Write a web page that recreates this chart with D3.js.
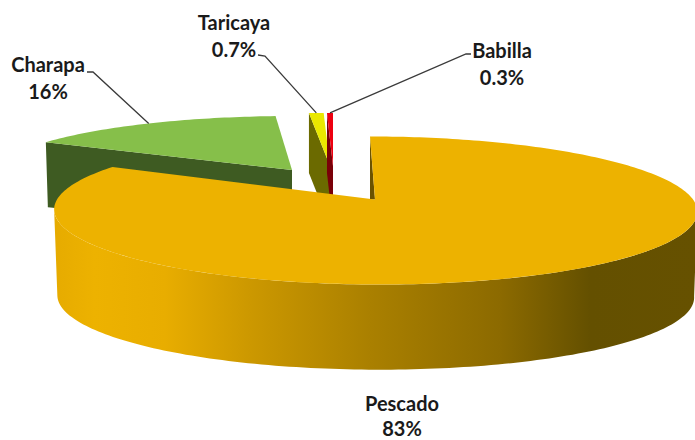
<!DOCTYPE html>
<html><head><meta charset="utf-8">
<script src="https://cdn.jsdelivr.net/npm/d3@7"></script>
<style>html,body{margin:0;padding:0;background:#fff;overflow:hidden}svg{display:block}</style>
</head><body><div id="chart"></div>
<script>
const categories = ["Pescado", "Charapa", "Taricaya", "Babilla"];
const values = [83, 16, 0.7, 0.3];
const valueLabels = ["83%", "16%", "0.7%", "0.3%"];

const W = 695, H = 440, K = 0.1486;
const geometry = [
  {ax:375, ay:199.5, rx:318, ry:72.4, shear:-5, depth:86,  top:"#EDB200", side:"url(#wall)"},
  {ax:292, ay:170, rx:301, ry:62,   shear:0,  depth:62,  top:"#86BF4A", side:"#3E5B22"},
  {ax:330, ay:166, rx:385, ry:61,   shear:0,  depth:60,  top:"#EAE800", side:"#6B6A00"},
  {ax:333, ay:166, rx:367, ry:61,   shear:0,  depth:60,  top:"#EE0010", side:"#7A0008"}
];
const labelLayout = [
  {x:402, y:410.5, gap:25.5, leader:null},
  {x:48,  y:72,  gap:26.5, leader:[[87,72],[93,72]]},
  {x:234, y:30,  gap:26.5, leader:[[258,55],[265,56]]},
  {x:502, y:58,  gap:26.5, leader:[[471,54],[466,54]]}
];

const svg = d3.select("#chart").append("svg").attr("width",W).attr("height",H);
const defs = svg.append("defs");
const grad = defs.append("linearGradient").attr("id","wall").attr("gradientUnits","userSpaceOnUse")
  .attr("x1",54).attr("x2",695).attr("y1",0).attr("y2",0);
[[0,"#E6AB00"],[0.064,"#EDB200"],[0.173,"#E8AD00"],[0.306,"#CC9800"],[0.493,"#AA8000"],[0.696,"#8C6A00"],[0.836,"#645000"],[1,"#665100"]]
  .forEach(s=>grad.append("stop").attr("offset",s[0]).attr("stop-color",s[1]));

const arcs = d3.pie().sort(null).value(d=>d)(values);

// ground-plane angle (clockwise from the back) projected onto the screen with perspective
function project(g, a, drop=0, scale=1){
  const u=Math.sin(a), v=Math.cos(a), w=1+K*v;
  return [g.ax + scale*g.rx*u/w + g.shear*v, g.ay - scale*g.ry*v/w + drop];
}
const line = d3.line();
const arcPts = (g,a0,a1,drop=0,scale=1)=>{
  const n=Math.max(2,Math.ceil(Math.abs(a1-a0)/0.02));
  return d3.range(n+1).map(i=>project(g,a0+(a1-a0)*i/n,drop,scale));
};
const apex = (g,drop=0)=>[g.ax,g.ay+drop];
const rad = d3.scaleLinear().domain([0,360]).range([0,2*Math.PI]);

// draw back slices first, Pescado last
[1,2,3].forEach(i=>{
  const g=geometry[i], a=arcs[i];
  const p=project(g,a.startAngle);
  svg.append("path").attr("fill",g.side)
    .attr("d",line([p,apex(g),apex(g,g.depth),[p[0]+ (i===1?2:0),p[1]+g.depth+(i===1?3:0)]])+"Z");
  svg.append("path").attr("fill",g.top)
    .attr("d",line([apex(g),...arcPts(g,a.startAngle,a.endAngle)])+"Z");
});

// Pescado
const g0=geometry[0], a0=arcs[0];
const back=project(g0,a0.startAngle);
svg.append("path").attr("fill","#6B5200")
  .attr("d",line([back,apex(g0),[back[0],g0.ay]])+"Z");
const wa0=rad(98.5), wa1=rad(261.5);
svg.append("path").attr("fill","url(#wall)")
  .attr("d",line([...arcPts(g0,wa0,wa1),...arcPts(g0,wa1,wa0,g0.depth,0.99)])+"Z");
svg.append("path").attr("fill",g0.top)
  .attr("d",line([apex(g0),...arcPts(g0,a0.startAngle,a0.endAngle)])+"Z");

// leaders
labelLayout.forEach((l,i)=>{
  if(!l.leader) return;
  const mid=(arcs[i].startAngle+arcs[i].endAngle)/2;
  svg.append("path").attr("fill","none").attr("stroke","#3A3A3A").attr("stroke-width",1.3)
    .attr("d",line([...l.leader,project(geometry[i],mid)]));
});

// labels
labelLayout.forEach((l,i)=>{
  const t=svg.append("text").attr("text-anchor","middle")
    .attr("font-family","Lato, 'Open Sans', sans-serif").attr("font-weight",700)
    .attr("font-size",20).attr("fill","#1a1a1a");
  t.append("tspan").attr("x",l.x).attr("y",l.y).text(categories[i]);
  t.append("tspan").attr("x",l.x).attr("y",l.y+l.gap).text(valueLabels[i]);
});
</script></body></html>
